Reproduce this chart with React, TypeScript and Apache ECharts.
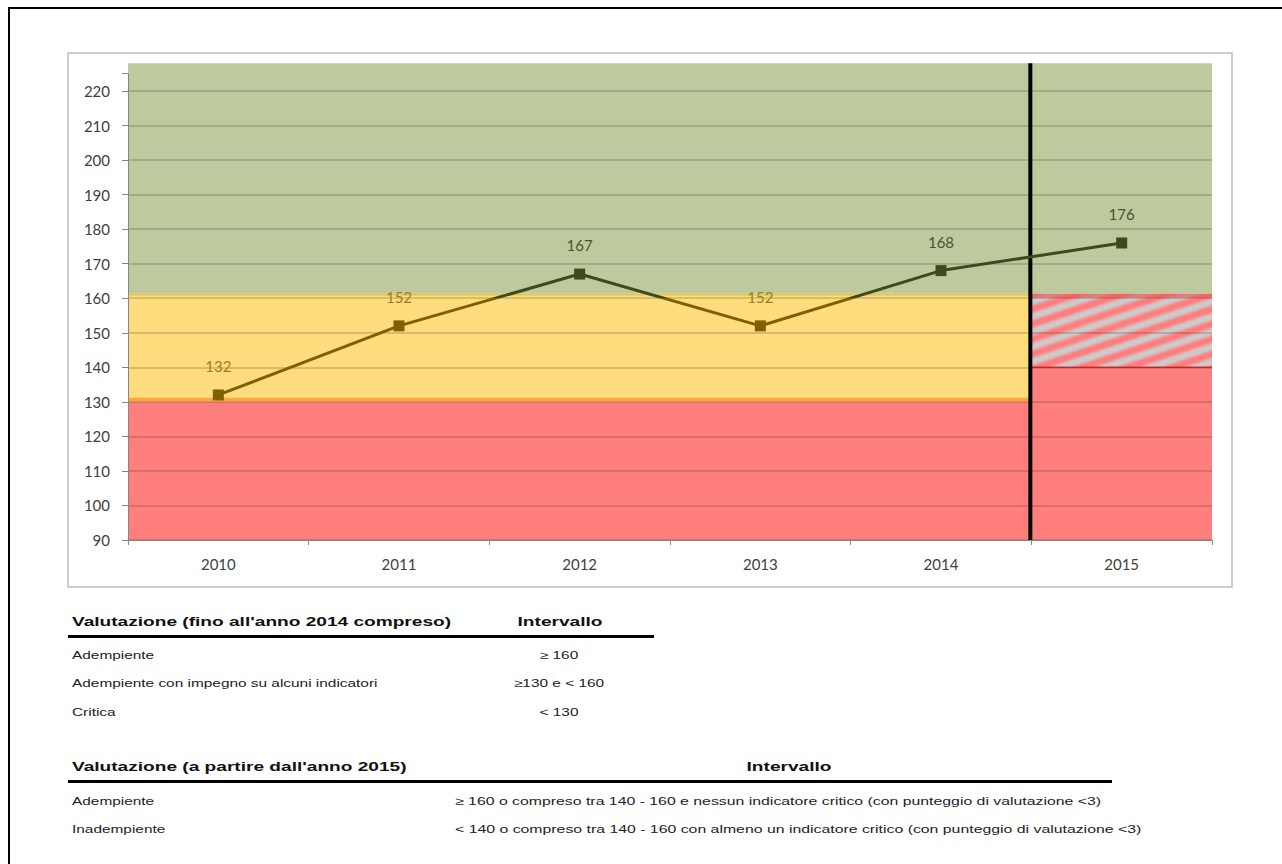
import React, { useEffect, useRef } from 'react';
import * as echarts from 'echarts';

// ---------- data ----------
const years = ['2010', '2011', '2012', '2013', '2014', '2015'];
const scores = [132, 152, 167, 152, 168, 176];
const threshold = 160;
const yTicks = [90, 100, 110, 120, 130, 140, 150, 160, 170, 180, 190, 200, 210, 220];
const yMin = 90;
const yMax = 225;
const bandTop = 228;

// background bands: [xStart, xEnd, yLow, yHigh]
const bandRanges = [
  [0, 5, 90, 130],
  [0, 5, 130, 161.4],
  [0, 5, 161.4, 228],
  [5, 6, 90, 140],
  [5, 6, 140, 161.4],
  [5, 6, 161.4, 228],
  [5, 5, 90, 228],
];
const bandKinds = ['red', 'yellow', 'green', 'red', 'hatch', 'green', 'sep'];

const table1Header = ["Valutazione (fino all'anno 2014 compreso)", 'Intervallo'];
const table1Rows = [
  ['Adempiente', '≥ 160'],
  ['Adempiente con impegno su alcuni indicatori', '≥130 e < 160'],
  ['Critica', '< 130'],
];
const table2Header = ["Valutazione (a partire dall'anno 2015)", 'Intervallo'];
const table2Rows = [
  ['Adempiente', '≥ 160 o compreso tra 140 - 160 e nessun indicatore critico (con punteggio di valutazione <3)'],
  ['Inadempiente', '< 140 o compreso tra 140 - 160 con almeno un indicatore critico (con punteggio di valutazione <3)'],
];

// ---------- styles ----------
const COLORS = {
  red: '#FF7F7F',
  yellow: '#FFDC7E',
  green: '#BDCA9E',
  gold: '#7F6000',
  olive: '#3D4A1C',
  goldLabel: '#9C7E1E',
  oliveLabel: '#4A5530',
  axis: '#868686',
  text: '#404040',
};

function makeHatch() {
  const W = 45, H = 15, P = 45;
  const c = document.createElement('canvas');
  c.width = W; c.height = H;
  const ctx = c.getContext('2d')!;
  const img = ctx.createImageData(W, H);
  const red = [255, 125, 125];
  const gray = [206, 202, 202];
  for (let y = 0; y < H; y++) {
    for (let x = 0; x < W; x++) {
      const u = (x + 3 * y) % P;
      let f = 0.5 + 0.5 * Math.cos((2 * Math.PI * u) / P);
      f = Math.min(1, Math.max(0, (f - 0.1) / 0.8));
      const i = (y * W + x) * 4;
      for (let k = 0; k < 3; k++) img.data[i + k] = Math.round(red[k] * (1 - f) + gray[k] * f);
      img.data[i + 3] = 255;
    }
  }
  ctx.putImageData(img, 0, 0);
  return { image: c, repeat: 'repeat', imageWidth: W, imageHeight: H };
}

export default function App() {
  const ref = useRef<HTMLDivElement>(null);
  useEffect(() => {
    if (!ref.current) return;
    const chart = echarts.init(ref.current, undefined, { renderer: 'svg' });
    const hatch = makeHatch();

    const font = 'Liberation Sans';
    const graphics: any[] = [
      { type: 'rect', z: 100, shape: { x: 9, y: 8, width: 1300, height: 900 }, style: { fill: 'none', stroke: '#000', lineWidth: 2 } },
      { type: 'rect', z: 100, shape: { x: 68, y: 53, width: 1164, height: 534 }, style: { fill: 'none', stroke: '#BFBFBF', lineWidth: 1.5 } },
    ];
    const hScale = 1.47;
    const headerText = (text: string, x: number, y: number, align: string) => ({
      type: 'text', z: 100, x, y, scaleX: hScale,
      style: { text, fontFamily: font, fontSize: 13, fontWeight: 'bold', fill: '#111', align, verticalAlign: 'middle' },
    });
    const bodyText = (text: string, x: number, y: number, align: string, scale: number) => ({
      type: 'text', z: 100, x, y, scaleX: scale,
      style: { text, fontFamily: font, fontSize: 11, fill: '#222', align, verticalAlign: 'middle' },
    });
    // table 1
    graphics.push(headerText(table1Header[0], 72, 621, 'left'));
    graphics.push(headerText(table1Header[1], 560, 621, 'center'));
    graphics.push({ type: 'line', z: 100, shape: { x1: 68, y1: 636.5, x2: 654, y2: 636.5 }, style: { stroke: '#000', lineWidth: 3 } });
    const rows1Y = [655, 683, 712];
    table1Rows.forEach((r, i) => {
      graphics.push(bodyText(r[0], 72, rows1Y[i], 'left', 1.4));
      graphics.push(bodyText(r[1], 559, rows1Y[i], 'center', 1.4));
    });
    // table 2
    graphics.push(headerText(table2Header[0], 72, 766, 'left'));
    graphics.push(headerText(table2Header[1], 789, 766, 'center'));
    graphics.push({ type: 'line', z: 100, shape: { x1: 68, y1: 781.5, x2: 1112, y2: 781.5 }, style: { stroke: '#000', lineWidth: 3 } });
    const rows2Y = [801, 829];
    table2Rows.forEach((r, i) => {
      graphics.push(bodyText(r[0], 72, rows2Y[i], 'left', 1.4));
      graphics.push(bodyText(r[1], 455, rows2Y[i], 'left', 1.44));
    });

    const plotLeft = 128, plotRight = 1282 - 1212, plotBottom = 864 - 540;
    const pxPerUnit = (540 - 91) / (220 - 90);

    const option: any = {
      animation: false,
      textStyle: { fontFamily: 'Lato' },
      grid: [
        { left: plotLeft, right: plotRight, bottom: plotBottom, top: 540 - (yMax - yMin) * pxPerUnit },
        { left: plotLeft, right: plotRight, bottom: plotBottom, top: 540 - (bandTop - yMin) * pxPerUnit },
      ],
      xAxis: [
        {
          type: 'category', gridIndex: 0, data: years, boundaryGap: true,
          axisLine: { lineStyle: { color: COLORS.axis, width: 1 } },
          axisTick: { show: true, length: 5, lineStyle: { color: COLORS.axis } },
          axisLabel: { color: COLORS.text, fontSize: 15, fontFamily: 'Lato', margin: 16 },
          splitLine: { show: false },
        },
        { type: 'value', gridIndex: 1, min: 0, max: 6, show: false },
      ],
      yAxis: [
        {
          type: 'value', gridIndex: 0, min: yMin, max: yMax, interval: 10,
          axisLine: { show: true, lineStyle: { color: COLORS.axis, width: 1 } },
          axisTick: { show: true, length: 6, lineStyle: { color: COLORS.axis } },
          axisLabel: {
            color: COLORS.text, fontSize: 15, fontFamily: 'Lato', margin: 18,
            formatter: (v: number) => (yTicks.indexOf(v) >= 0 ? String(v) : ''),
          },
          splitLine: { show: true, showMaxLine: false, lineStyle: { color: 'rgba(0,0,0,0.2)', width: 1.5 } },
        },
        { type: 'value', gridIndex: 1, min: yMin, max: bandTop, show: false },
      ],
      visualMap: {
        type: 'piecewise', show: false, seriesIndex: 1, dimension: 1,
        pieces: [
          { gte: 0, lt: threshold, color: COLORS.gold },
          { gte: threshold, lte: 1000, color: COLORS.olive },
        ],
        outOfRange: { color: COLORS.olive },
      },
      series: [
        {
          type: 'custom', xAxisIndex: 1, yAxisIndex: 1, z: -1, silent: true,
          data: bandRanges,
          renderItem: (params: any, api: any) => {
            const kind = bandKinds[params.dataIndex];
            const tl = api.coord([api.value(0), api.value(3)]);
            const br = api.coord([api.value(1), api.value(2)]);
            if (kind === 'sep') {
              return { type: 'line', shape: { x1: tl[0] - 1, y1: tl[1], x2: tl[0] - 1, y2: br[1] + 1 }, style: { stroke: '#000', lineWidth: 4 } };
            }
            const fill = kind === 'hatch' ? hatch : (COLORS as any)[kind];
            const children: any[] = [
              { type: 'rect', shape: { x: tl[0], y: tl[1], width: br[0] - tl[0], height: br[1] - tl[1] }, style: { fill } },
            ];
            if (kind === 'yellow') {
              children.push({ type: 'line', shape: { x1: tl[0], y1: tl[1] + 1, x2: br[0], y2: tl[1] + 1 }, style: { stroke: '#E8C24E', lineWidth: 2 } });
              children.push({ type: 'line', shape: { x1: tl[0], y1: br[1] - 2, x2: br[0], y2: br[1] - 2 }, style: { stroke: '#FFA53F', lineWidth: 4 } });
            }
            if (kind === 'hatch') {
              children.push({ type: 'line', shape: { x1: tl[0], y1: tl[1] + 2, x2: br[0], y2: tl[1] + 2 }, style: { stroke: 'rgba(240,90,90,0.7)', lineWidth: 4 } });
              children.push({ type: 'line', shape: { x1: tl[0], y1: br[1], x2: br[0], y2: br[1] }, style: { stroke: '#E03030', lineWidth: 1.5 } });
            }
            return { type: 'group', children };
          },
        },
        {
          type: 'line', xAxisIndex: 0, yAxisIndex: 0, z: 5,
          data: scores.map((v) => ({
            value: v,
            label: { color: v >= threshold ? COLORS.oliveLabel : COLORS.goldLabel },
          })),
          symbol: 'rect', symbolSize: 11,
          lineStyle: { width: 3 },
          label: { show: true, position: 'top', distance: 16, fontSize: 15, fontFamily: 'Lato' },
        },
      ],
      graphic: graphics,
    };
    chart.setOption(option);
    return () => chart.dispose();
  }, []);
  return <div ref={ref} style={{ position: 'absolute', left: 0, top: 0, width: 1282, height: 864, background: '#fff' }} />;
}
